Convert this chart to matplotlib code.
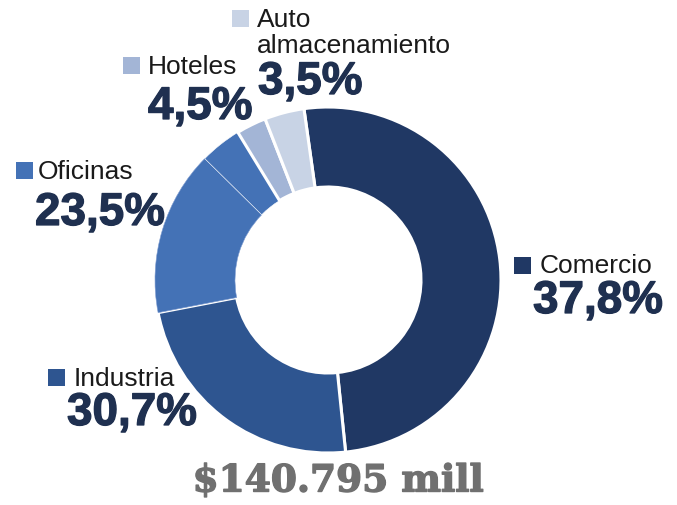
import matplotlib
matplotlib.use("Agg")
import matplotlib.pyplot as plt
import matplotlib.patheffects as pe

# slice sizes as drawn (deg share of ring), labels as printed
slices = ["Comercio", "Industria", "Oficinas", "Oficinas b", "Hoteles", "Auto almacenamiento"]
slice_vals = [50.6, 23.6, 15.4, 3.9, 2.8, 3.7]
slice_colors = ["#203864", "#2e5590", "#4472b6", "#4472b6", "#a3b5d6", "#c8d3e5"]

labels = ["Auto\nalmacenamiento", "Hoteles", "Oficinas", "Comercio", "Industria"]
pcts = ["3,5%", "4,5%", "23,5%", "37,8%", "30,7%"]
label_colors = ["#c8d3e5", "#a3b5d6", "#4472b6", "#203864", "#2e5590"]
total = "$140.795 mill"

W, H = 677, 506
fig = plt.figure(figsize=(W / 100, H / 100), dpi=100)
ax = fig.add_axes([0, 0, 1, 1])

cx, cy, r = 328, H - 281, 173
wedges, _ = ax.pie(slice_vals, colors=slice_colors, startangle=98, counterclock=False,
                   center=(cx, cy), radius=r,
                   wedgeprops=dict(width=80, edgecolor="white", linewidth=2.2))
# the two Oficinas pieces only have a faint seam
wedges[2].set_linewidth(0.4)
wedges[3].set_linewidth(0.4)
wedges[2].set_edgecolor("#7d9bd0")

ax.set_xlim(0, W)
ax.set_ylim(0, H)
ax.set_aspect("equal")
ax.axis("off")

# (square x, square y, text x, text y, pct x, pct y) in pixel coords from top
pos = [
    (240, 19, 257, 20, 258, 83),
    (131, 66, 148, 67, 148, 108),
    (24, 171, 38, 172, 35, 214),
    (522, 266, 540, 266, 533, 302),
    (56, 378, 74, 379, 67, 414),
]
sq = 17
bold = [pe.withStroke(linewidth=0.9, foreground="#1f3050")]
for lab, p, c, (sx, sy, tx, ty, px, py) in zip(labels, pcts, label_colors, pos):
    ax.add_patch(plt.Rectangle((sx - sq / 2, H - sy - sq / 2), sq, sq, color=c, lw=0))
    lines = lab.split("\n")
    for i, line in enumerate(lines):
        ax.text(tx, H - ty - 26 * i, line, fontsize=19, family="Liberation Sans",
                color="#1a1a1a", va="center", ha="left")
    ax.text(px, H - py, p, fontsize=33, family="Liberation Sans", weight="bold",
            color="#1f3050", va="center", ha="left", path_effects=bold)

ax.text(338, H - 482, total, fontsize=27, family="DejaVu Serif", weight="bold",
        color="#707070", va="center", ha="center",
        path_effects=[pe.withStroke(linewidth=1, foreground="#707070")])

fig.savefig("out.png", dpi=100)
